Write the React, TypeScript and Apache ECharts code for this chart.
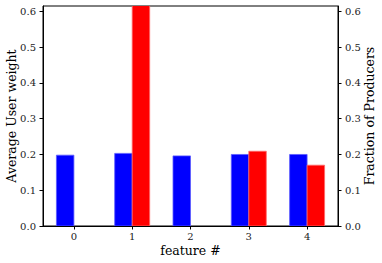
import React, { useEffect, useRef } from "react";
import * as echarts from "echarts";

const categories = ["0", "1", "2", "3", "4"];
const userWeight = [0.198, 0.203, 0.196, 0.2, 0.2];
const producerFraction = [0, 0.8, 0, 0.209, 0.17];
const yTicks = [0, 0.1, 0.2, 0.3, 0.4, 0.5, 0.6];
const xTicks = [0, 1, 2, 3, 4];

const FONT = "DejaVu Serif";

function makeRender(offset: number, width: number, fill: string, stroke: string) {
  return (params: any, api: any) => {
    const x = api.value(0);
    const y = api.value(1);
    if (!y) return null;
    const p0 = api.coord([x + offset, y]);
    const p1 = api.coord([x + offset + width, 0]);
    return {
      type: "rect",
      shape: { x: p0[0], y: p0[1], width: p1[0] - p0[0], height: p1[1] - p0[1] },
      style: { fill, stroke, lineWidth: 0.8 },
    };
  };
}

export default function App() {
  const ref = useRef<HTMLDivElement>(null);
  useEffect(() => {
    if (!ref.current) return;
    const chart = echarts.init(ref.current, null, { renderer: "svg" });
    const yAxisBase = (name: string, position: "left" | "right") => ({
      type: "value",
      position,
      min: 0,
      max: 0.615,
      name,
      nameLocation: "middle",
      nameRotate: 90,
      nameGap: 25,
      nameMoveOverlap: false,
      nameTextStyle: { fontFamily: FONT, fontSize: 12.5, color: "#000" },
      axisLine: { show: true, onZero: false, lineStyle: { color: "#000", width: 1 } },
      axisTick: { show: true, length: 3.5, customValues: yTicks, lineStyle: { color: "#000" } },
      axisLabel: {
        margin: 7,
        fontFamily: FONT,
        fontSize: 10,
        color: "#222",
        customValues: yTicks,
        formatter: (v: number) => v.toFixed(1),
      },
      splitLine: { show: false },
    });
    chart.setOption({
      animation: false,
      grid: {
        left: 43,
        right: 44,
        top: 6,
        bottom: 37,
        outerBoundsMode: "none",
        containLabel: false,
        show: true,
        borderColor: "#000",
        borderWidth: 1,
        backgroundColor: "transparent",
      },
      xAxis: {
        type: "value",
        min: -0.53,
        max: 4.53,
        name: "feature #",
        nameLocation: "middle",
        nameGap: 18,
        nameMoveOverlap: false,
        nameTextStyle: { fontFamily: FONT, fontSize: 12.5, color: "#000" },
        axisLine: { show: true, onZero: false, lineStyle: { color: "#000" } },
        axisTick: { show: true, length: 3.5, customValues: xTicks, lineStyle: { color: "#000" } },
        axisLabel: {
          margin: 5,
          fontFamily: FONT,
          fontSize: 10,
          color: "#222",
          customValues: xTicks,
          formatter: (v: number) => categories[Math.round(v)] ?? "",
        },
        splitLine: { show: false },
      },
      yAxis: [yAxisBase("Average User weight", "left"), yAxisBase("Fraction of Producers", "right")],
      series: [
        {
          type: "custom",
          yAxisIndex: 0,
          clip: true,
          renderItem: makeRender(-0.3, 0.3, "#0000ff", "#5a5aff"),
          data: userWeight.map((v, i) => [i, v]),
        },
        {
          type: "custom",
          yAxisIndex: 1,
          clip: true,
          renderItem: makeRender(0, 0.3, "#ff0000", "#ff6a6a"),
          data: producerFraction.map((v, i) => [i, v]),
        },
      ],
    });
    return () => chart.dispose();
  }, []);
  return (
    <div
      ref={ref}
      style={{ position: "fixed", left: 0, top: 0, width: 382, height: 263, background: "#fff" }}
    />
  );
}
